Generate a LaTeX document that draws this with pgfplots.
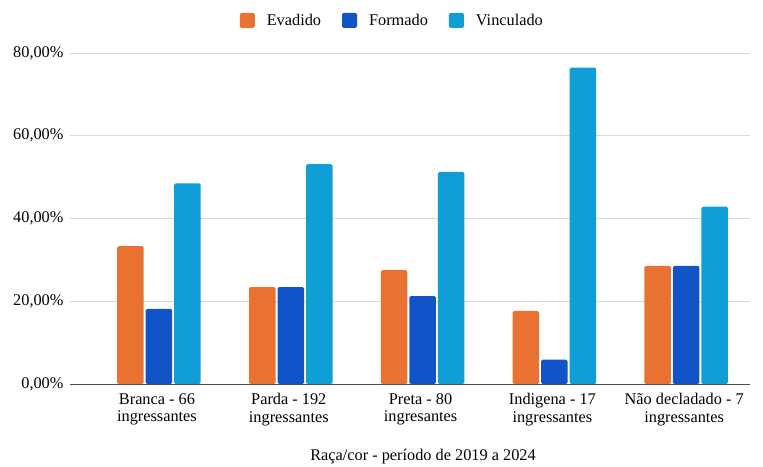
\documentclass[border=0pt]{standalone}
\usepackage{pgfplots}
\pgfplotsset{compat=1.18}
\usepackage{fontspec}
\setmainfont{Liberation Serif}
\definecolor{cEva}{HTML}{E97132}
\definecolor{cFor}{HTML}{1254C8}
\definecolor{cVin}{HTML}{0F9ED5}
\begin{document}
\begin{tikzpicture}
\useasboundingbox (-70pt,-82pt) rectangle (693pt,384pt);
\begin{axis}[
  scale only axis, width=680pt, height=331pt,
  ybar=2pt, bar width=26.5pt,
  xmin=-0.675, xmax=4.484, ymin=0, ymax=80,
  xtick={0,1,2,3,4},
  xticklabels={{Branca - 66\\ingressantes},{Parda - 192\\ingressantes},{Preta - 80\\ingresantes},{Indigena - 17\\ingressantes},{Não decladado - 7\\ingressantes}},
  xticklabel style={align=center, font=\fontsize{16.3}{17.5}\selectfont, yshift=-6pt, xshift=-2pt},
  ytick={0,20,40,60,80},
  yticklabel={\pgfmathprintnumber[fixed,fixed zerofill,precision=2,use comma]{\tick}\%},
  yticklabel style={font=\fontsize{16.3}{18}\selectfont, xshift=-3pt},
  /pgf/number format/assume math mode=true,
  ymajorgrids, grid style={draw=black!15, line width=0.8pt},
  extra y ticks={0}, extra y tick labels={},
  extra y tick style={major grid style={draw=black!70, line width=1pt}},
  axis line style={draw=none},
  major tick length=0pt, tick style={draw=none},
  xlabel={Raça/cor - período de 2019 a 2024},
  xlabel style={font=\fontsize{16.3}{18}\selectfont, yshift=-16pt, xshift=13pt},
  legend columns=3,
  legend style={at={(0.474,1)}, anchor=south, yshift=22pt, draw=none, font=\fontsize{16.3}{18}\selectfont,
    /tikz/every odd column/.append style={column sep=10pt},
    /tikz/every even column/.append style={column sep=19pt}},
  legend image code/.code={\fill[#1] (0pt,-7.5pt) rectangle (15pt,7.5pt);},
]
\addplot[fill=cEva, draw=none, rounded corners=1.5pt] coordinates {(0,33.33) (1,23.44) (2,27.50) (3,17.65) (4,28.57)};
\addplot[fill=cFor, draw=none, rounded corners=1.5pt] coordinates {(0,18.18) (1,23.44) (2,21.25) (3,5.88) (4,28.57)};
\addplot[fill=cVin, draw=none, rounded corners=1.5pt] coordinates {(0,48.48) (1,53.12) (2,51.25) (3,76.47) (4,42.86)};
\legend{Evadido, Formado, Vinculado}
\end{axis}
\end{tikzpicture}
\end{document}
